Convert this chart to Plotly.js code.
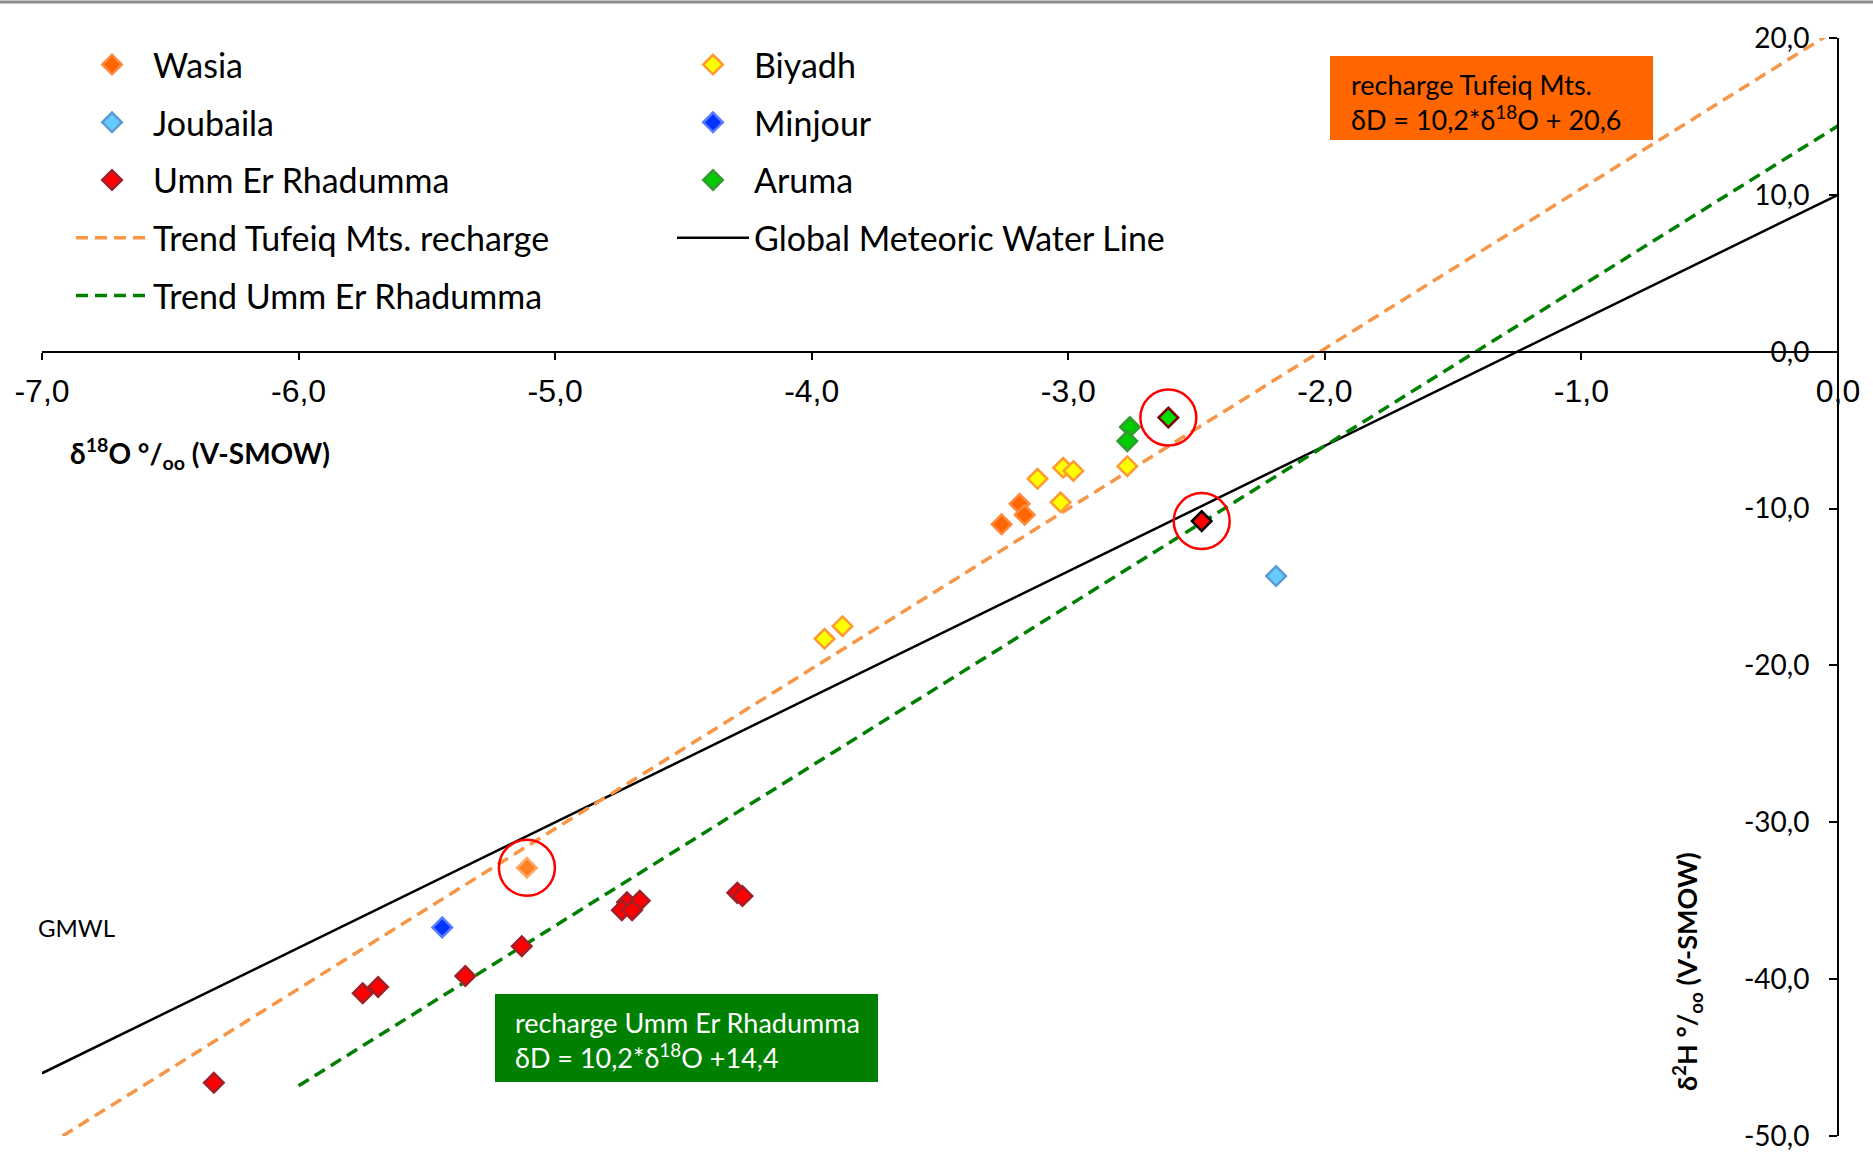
<!DOCTYPE html>
<html><head><meta charset="utf-8">
<script src="https://cdn.plot.ly/plotly-3.0.1.min.js"></script>
<style>body{margin:0;background:#fff}#chart{width:1873px;height:1156px}</style>
</head><body><div id="chart"></div>
<script>
// ---------- data (δ18O, δ2H in ‰ V-SMOW) ----------
const wasiaX = [-3.26, -3.19, -3.17];
const wasiaY = [-11.0, -9.7, -10.4];
const biyadhX = [-3.12, -3.02, -2.98, -3.03, -2.77, -3.95, -3.88];
const biyadhY = [-8.1, -7.4, -7.6, -9.6, -7.3, -18.3, -17.5];
const joubailaX = [-2.19];
const joubailaY = [-14.3];
const minjourX = [-5.44];
const minjourY = [-36.7];
const ummX = [-5.35, -5.13, -4.72, -4.67, -4.74, -4.70, -4.29, -4.27, -5.75, -5.69, -6.33];
const ummY = [-39.8, -37.9, -35.1, -35.0, -35.6, -35.6, -34.5, -34.7, -40.9, -40.5, -46.6];
const arumaX = [-2.76, -2.77];
const arumaY = [-4.8, -5.7];
// circled (recharge reference) samples: Aruma, Umm Er Rhadumma, Wasia
const highlightX = [-2.61, -2.48, -5.11];
const highlightY = [-4.2, -10.8, -32.9];
// lines
const gmwlX = [-7.0, 0.0];
const gmwlY = [-46.0, 10.0];
const tufeiqX = [-6.92, 0.0];
const tufeiqY = [-50.0, 20.6];
const ummTrendX = [-6.0, 0.0];
const ummTrendY = [-46.8, 14.4];
// ticks
const xTickVals = [-7, -6, -5, -4, -3, -2, -1, 0];
const xTickText = ['-7,0', '-6,0', '-5,0', '-4,0', '-3,0', '-2,0', '-1,0', '0,0'];
const yTickVals = [-50, -40, -30, -20, -10, 0, 10, 20];
const yTickText = ['-50,0', '-40,0', '-30,0', '-20,0', '-10,0', '0,0', '10,0', '20,0'];

// ---------- layout helpers ----------
const W = 1873, H = 1156, L = 42, R = 35, T = 38, B = 20;
const PW = W - L - R, PH = H - T - B;
const px = x => (x - L) / PW;
const py = y => (H - B - y) / PH;

const font = 'Lato, "Open Sans", sans-serif';

function diamondTrace(name, x, y, fill, border, legend, rank) {
  return {
    type: 'scatter', mode: 'markers', name: name, x: x, y: y,
    legend: legend, legendgroup: name, legendrank: rank,
    marker: {symbol: 'diamond', size: 15, color: fill, line: {color: border, width: 2.5}},
    hoverinfo: 'x+y+name'
  };
}

const traces = [
  {type: 'scatter', mode: 'lines', name: 'Global Meteoric Water Line', x: gmwlX, y: gmwlY,
   legend: 'legend2', legendgroup: 'g', legendrank: 4, line: {color: '#000000', width: 2.5}},
  {type: 'scatter', mode: 'lines', name: 'Trend Tufeiq Mts. recharge', x: tufeiqX, y: tufeiqY,
   legend: 'legend', legendgroup: 't1', legendrank: 4, line: {color: '#F79646', width: 3.5, dash: '12px,7px'}},
  {type: 'scatter', mode: 'lines', name: 'Trend Umm Er Rhadumma', x: ummTrendX, y: ummTrendY,
   legend: 'legend', legendgroup: 't2', legendrank: 5, line: {color: '#008000', width: 3.5, dash: '12px,7px'}},
  diamondTrace('Wasia', wasiaX, wasiaY, '#FF6600', '#FF8A3D', 'legend', 1),
  diamondTrace('Joubaila', joubailaX, joubailaY, '#66CCFF', '#5B9BD5', 'legend', 2),
  diamondTrace('Umm Er Rhadumma', ummX, ummY, '#FF0000', '#A0202A', 'legend', 3),
  diamondTrace('Biyadh', biyadhX, biyadhY, '#FFFF00', '#FF9933', 'legend2', 1),
  diamondTrace('Minjour', minjourX, minjourY, '#0033FF', '#5A7BFF', 'legend2', 2),
  diamondTrace('Aruma', arumaX, arumaY, '#00CC00', '#339933', 'legend2', 3),
  {type: 'scatter', mode: 'markers', name: 'recharge samples', x: highlightX, y: highlightY,
   showlegend: false,
   marker: {symbol: 'diamond', size: 15, color: ['#00DD00', '#FF0000', '#FF7F27'],
            line: {color: ['#7F0000', '#000000', '#FFA866'], width: 2.5}}},
  {type: 'scatter', mode: 'markers', name: 'circle', x: highlightX, y: highlightY,
   showlegend: false, hoverinfo: 'skip',
   marker: {symbol: 'circle-open', size: 56, color: '#FF0000', line: {color: '#FF0000', width: 2.5}}}
];

const legendCommon = {
  xanchor: 'left', yanchor: 'top', y: py(36),
  font: {family: font, size: 34, color: '#000'},
  itemwidth: 72, tracegroupgap: 10.5, bgcolor: 'rgba(0,0,0,0)', traceorder: 'grouped'
};

const layout = {
  width: W, height: H,
  margin: {l: L, r: R, t: T, b: B, autoexpand: false},
  paper_bgcolor: '#ffffff', plot_bgcolor: '#ffffff',
  separators: ',.',
  showlegend: true,
  legend: Object.assign({}, legendCommon, {x: px(71)}),
  legend2: Object.assign({}, legendCommon, {x: px(672)}),
  xaxis: {
    range: [-7, 0], anchor: 'free', position: 50 / 70,
    tickmode: 'array', tickvals: xTickVals, ticktext: xTickText,
    ticks: 'outside', ticklen: 7, tickwidth: 2, tickcolor: '#000',
    showline: true, linewidth: 2, linecolor: '#000',
    showgrid: false, zeroline: false, ticklabelstandoff: 4,
    tickfont: {family: '"Liberation Sans", Arial, sans-serif', size: 32, color: '#000'}
  },
  yaxis: {
    range: [-50, 20], anchor: 'free', position: 1, side: 'left',
    tickmode: 'array', tickvals: yTickVals, ticktext: yTickText,
    ticks: 'outside', ticklen: 8, tickwidth: 2, tickcolor: '#000',
    showline: true, linewidth: 2, linecolor: '#000',
    showgrid: false, zeroline: false, ticklabelstandoff: 14,
    tickfont: {family: font, size: 28, color: '#000'}
  },
  shapes: [
    {type: 'line', xref: 'paper', yref: 'paper', x0: px(0), x1: px(W), y0: py(2), y1: py(2),
     line: {color: '#8C8C8C', width: 3}},
    {type: 'rect', xref: 'paper', yref: 'paper', x0: px(1330), x1: px(1653), y0: py(140), y1: py(56),
     fillcolor: '#FF6600', line: {width: 0}},
    {type: 'rect', xref: 'paper', yref: 'paper', x0: px(495), x1: px(878), y0: py(1082), y1: py(994),
     fillcolor: '#008000', line: {width: 0}}
  ],
  annotations: [
    {xref: 'paper', yref: 'paper', x: px(1349), y: py(102), xanchor: 'left', yanchor: 'middle', align: 'left',
     showarrow: false, font: {family: font, size: 27, color: '#000'},
     text: 'recharge Tufeiq Mts.<br>δD = 10,2*δ<sup>18</sup>O + 20,6'},
    {xref: 'paper', yref: 'paper', x: px(513), y: py(1040), xanchor: 'left', yanchor: 'middle', align: 'left',
     showarrow: false, font: {family: font, size: 27, color: '#fff'},
     text: 'recharge Umm Er Rhadumma<br>δD = 10,2*δ<sup>18</sup>O +14,4'},
    {xref: 'paper', yref: 'paper', x: px(36), y: py(928), xanchor: 'left', yanchor: 'middle',
     showarrow: false, font: {family: font, size: 24, color: '#000'}, text: 'GMWL'},
    {xref: 'paper', yref: 'paper', x: px(68), y: py(453), xanchor: 'left', yanchor: 'middle',
     showarrow: false, font: {family: font, size: 28, color: '#000'},
     text: '<b>δ<sup>18</sup>O °/<sub>oo</sub> (V-SMOW)</b>'},
    {xref: 'paper', yref: 'paper', x: px(1687), y: py(972), xanchor: 'center', yanchor: 'middle',
     textangle: -90, showarrow: false, font: {family: font, size: 27, color: '#000'},
     text: '<b>δ<sup>2</sup>H °/<sub>oo</sub> (V-SMOW)</b>'}
  ]
};

Plotly.newPlot('chart', traces, layout, {displayModeBar: false, staticPlot: true});
</script>
</body></html>
